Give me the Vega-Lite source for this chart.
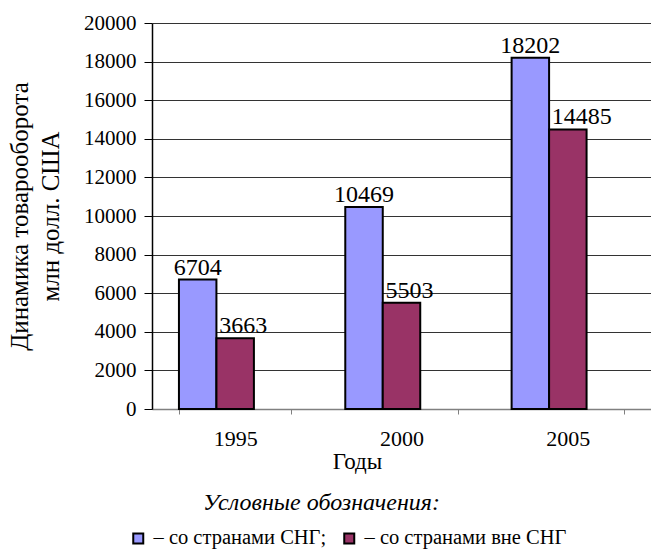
{
  "$schema": "https://vega.github.io/schema/vega-lite/v6.json",
  "width": 499,
  "height": 386,
  "autosize": {"type": "none"},
  "padding": {"left": 152, "top": 23, "right": 0, "bottom": 144},
  "background": "white",
  "title": {
    "text": "Условные обозначения:",
    "orient": "bottom",
    "anchor": "middle",
    "frame": "group",
    "fontSize": 24,
    "fontStyle": "italic",
    "fontWeight": "normal",
    "color": "black",
    "offset": -58,
    "dx": -80
  },
  "config": {
    "font": "'Times New Roman', 'Liberation Serif', 'DejaVu Serif', serif",
    "axis": {"labelFont": "'Times New Roman', 'Liberation Serif', 'DejaVu Serif', serif", "titleFont": "'Times New Roman', 'Liberation Serif', 'DejaVu Serif', serif"},
    "legend": {"labelFont": "'Times New Roman', 'Liberation Serif', 'DejaVu Serif', serif", "titleFont": "'Times New Roman', 'Liberation Serif', 'DejaVu Serif', serif"},
    "title": {"font": "'Times New Roman', 'Liberation Serif', 'DejaVu Serif', serif"},
    "text": {"font": "'Times New Roman', 'Liberation Serif', 'DejaVu Serif', serif"},
    "view": {"stroke": null}
  },
  "data": {
    "values": [
      {"year": "1995", "series": "СНГ", "value": 6704},
      {"year": "1995", "series": "вне СНГ", "value": 3663},
      {"year": "2000", "series": "СНГ", "value": 10469},
      {"year": "2000", "series": "вне СНГ", "value": 5503},
      {"year": "2005", "series": "СНГ", "value": 18202},
      {"year": "2005", "series": "вне СНГ", "value": 14485}
    ]
  },
  "encoding": {
    "x": {
      "field": "year",
      "type": "nominal",
      "scale": {"paddingInner": 0.324, "paddingOuter": 0.162},
      "axis": {
        "title": "Годы",
        "labelAngle": 0,
        "labelFontSize": 22,
        "labelColor": "black",
        "labelPadding": 14,
        "tickBand": "extent",
        "tickSize": 5,
        "tickColor": "#808080",
        "domainColor": "#808080",
        "domainWidth": 1.5,
        "grid": false,
        "titleFontSize": 23,
        "titleFontWeight": "normal",
        "titleColor": "black",
        "titleX": 205,
        "titleY": 59,
        "titleBaseline": "alphabetic"
      }
    },
    "xOffset": {
      "field": "series",
      "type": "nominal",
      "scale": {"domain": ["СНГ", "вне СНГ", "пусто"], "paddingInner": 0, "paddingOuter": 0}
    },
    "y": {
      "field": "value",
      "type": "quantitative",
      "scale": {"domain": [0, 20000], "nice": false},
      "axis": {
        "values": [0, 2000, 4000, 6000, 8000, 10000, 12000, 14000, 16000, 18000, 20000],
        "format": "d",
        "title": ["Динамика товарооборота", "млн долл. США"],
        "titleFontSize": 25,
        "titleFontWeight": "normal",
        "titleColor": "black",
        "titleLineHeight": 31,
        "titlePadding": 20,
        "labelFontSize": 21,
        "labelColor": "black",
        "labelPadding": 8,
        "tickSize": 8,
        "tickColor": "black",
        "domainColor": "black",
        "domainWidth": 1.5,
        "gridColor": "#333333",
        "gridWidth": 1
      }
    }
  },
  "layer": [
    {
      "mark": {"type": "bar", "stroke": "black", "strokeWidth": 2},
      "encoding": {
        "color": {
          "field": "series",
          "type": "nominal",
          "scale": {"domain": ["СНГ", "вне СНГ"], "range": ["#9999FF", "#993366"]},
          "legend": {
            "orient": "none",
            "direction": "horizontal",
            "legendX": -24,
            "legendY": 505,
            "title": null,
            "labelExpr": "datum.label == 'СНГ' ? '– со странами СНГ;' : '– со странами вне СНГ'",
            "labelFontSize": 20.5,
            "labelColor": "black",
            "labelOffset": 5,
            "labelLimit": 400,
            "columnPadding": 12,
            "symbolType": "square",
            "symbolSize": 100,
            "symbolStrokeColor": "black",
            "symbolStrokeWidth": 2,
            "symbolOpacity": 1
          }
        }
      }
    },
    {
      "transform": [{"filter": "datum.series == 'СНГ'"}],
      "mark": {"type": "text", "baseline": "alphabetic", "dy": -5, "fontSize": 24, "color": "black"},
      "encoding": {"text": {"field": "value", "type": "quantitative", "format": "d"}}
    },
    {
      "transform": [{"filter": "datum.series == 'вне СНГ'"}],
      "mark": {"type": "text", "baseline": "alphabetic", "align": "left", "dx": -16, "dy": -5, "fontSize": 24, "color": "black"},
      "encoding": {"text": {"field": "value", "type": "quantitative", "format": "d"}}
    }
  ]
}
